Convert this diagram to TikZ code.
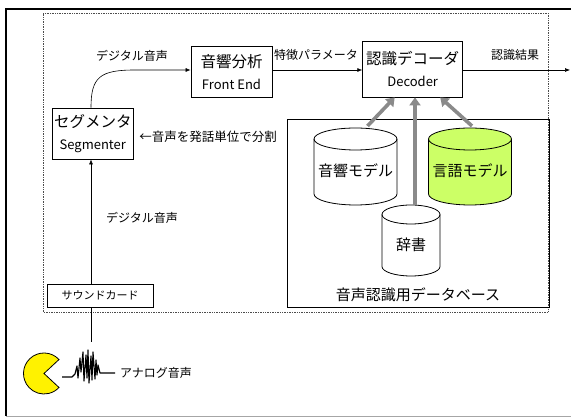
\documentclass[tikz,border=0pt]{standalone}
\usepackage{fontspec}
\setmainfont{Noto Sans CJK JP}
\usetikzlibrary{arrows.meta,calc}

\definecolor{lime}{HTML}{CCFF66}
\definecolor{feedgray}{HTML}{8A8A8A}

\tikzset{
  box/.style={draw, line width=0.8pt, fill=white, align=center, inner sep=0pt,
    font=\fontsize{13}{22}\selectfont},
  big/.style={font=\fontsize{15.5}{22}\selectfont},
  lbl/.style={font=\fontsize{12}{14}\selectfont, inner sep=0pt},
  dblbl/.style={font=\fontsize{15}{18}\selectfont, inner sep=0pt},
  arr/.style={line width=0.6pt, -{Latex[length=5pt,width=4pt]}},
  feed/.style={draw=feedgray, line width=3.6pt, -{Triangle[length=8pt,width=11pt]}},
}

% drum-shaped store: name, centre x, top y, x radius, height, y radius, fill, text
\newcommand\drum[8]{%
  \filldraw[fill=#7, line width=0.8pt]
    (#2-#4,#3-#6) -- (#2-#4,#3-#5+#6)
    arc[start angle=180, end angle=360, x radius=#4, y radius=#6]
    -- (#2+#4,#3-#6)
    arc[start angle=0, end angle=180, x radius=#4, y radius=#6] -- cycle;
  \draw[line width=0.8pt] (#2+#4,#3-#6)
    arc[start angle=0, end angle=-180, x radius=#4, y radius=#6];
  \coordinate (#1-top) at (#2,#3);
  \node[dblbl] (#1) at (#2,#3-#5/2-4) {#8};
}

\begin{document}
\begin{tikzpicture}[x=1pt,y=1pt]
  \useasboundingbox (0,0) rectangle (571,417);

  % page frame
  \draw[gray!70, line width=0.8pt] (6,1) -- (571,1);
  \draw[line width=1.6pt] (571,408) -- (6,408) -- (6,1);

  % recognition system boundary
  \draw[densely dotted, line width=0.7pt, black!70] (43,105) rectangle (548,404);

  % database area
  \node[draw, line width=0.8pt, minimum width=262pt, minimum height=188pt,
        inner sep=0pt] (db) at (418,204) {};
  \node[dblbl] (dbname) at (418,122) {音声認識用データベース};

  % processing blocks
  \node[box, minimum width=81pt, minimum height=51pt] (fe) at (231.5,345)
    {{\fontsize{15.5}{22}\selectfont 音響分析}\\Front End};
  \node[box, minimum width=100pt, minimum height=56pt] (dec) at (412.7,348)
    {{\fontsize{15.5}{22}\selectfont 認識デコーダ}\\Decoder};
  \node[box, minimum width=81pt, minimum height=51pt] (seg) at (92.8,283.5)
    {{\fontsize{15.5}{22}\selectfont セグメンタ}\\Segmenter};
  \node[box, minimum width=106pt, minimum height=23pt,
        font=\fontsize{11}{13}\selectfont] (card) at (100,121.5) {サウンドカード};

  % stores
  \drum{ac}{355.5}{289}{41.5}{77}{11}{white}{音響モデル}
  \drum{lm}{470}{289}{41.5}{77}{11}{lime}{言語モデル}
  \drum{dict}{411}{212}{29}{71}{9.5}{white}{辞書}

  % store feeds into the decoder
  \draw[feed] ([xshift=12pt,yshift=2pt]ac-top) -- ([xshift=-18pt]dec.south);
  \draw[feed] ([xshift=4pt]dict-top) -- ([xshift=2.3pt]dec.south);
  \draw[feed] ([xshift=2pt,yshift=2pt]lm-top) -- ([xshift=27.5pt]dec.south);

  % signal path
  \coordinate (vline) at (91,0);
  \coordinate (out) at (570,0);
  \coordinate (mic) at (91,75);
  \draw[arr] (card.north -| vline) -- (seg.south -| vline);
  \draw[line width=0.6pt] (card.south -| vline) -- (mic);
  \draw[arr] (seg.north -| vline) .. controls (91,340) and (100,347) ..
    (135,347) -- ([yshift=2pt]fe.west);
  \draw[arr] ([yshift=2pt]fe.east) -- ([yshift=2pt]fe.east -| dec.west);
  \draw[arr] ([yshift=-1pt]dec.east) -- ([yshift=-1pt]dec.east -| out);

  % labels
  \node[lbl] (l1) at (132,361) {デジタル音声};
  \node[lbl] (l2) at (316,362) {特徴パラメータ};
  \node[lbl] (l3) at (515,362) {認識結果};
  \node[lbl, font=\fontsize{12.5}{14}\selectfont] (l4) at (208,280) {←音声を発話単位で分割};
  \node[lbl] (l5) at (142,199) {デジタル音声};
  \node[lbl] (l6) at (156,44) {アナログ音声};

  % speaker
  \filldraw[fill=yellow, line width=0.8pt] (44,43.5) -- +(43:20.5)
    arc[start angle=43, end angle=317, radius=20.5] -- cycle;

  % analog waveform
  \draw[line width=1.1pt, line join=round]
    (62,40) -- (72,40) -- (75,43) -- (77,51) -- (78,39) -- (80,59) -- (81,45)
    -- (83,65) -- (84,36) -- (86,62) -- (87,39) -- (88,67) -- (89,34)
    -- (91,61) -- (92,37) -- (93,65) -- (95,38) -- (96,57) -- (97,42)
    -- (98,52) -- (100,44) -- (115,44);
\end{tikzpicture}
\end{document}
